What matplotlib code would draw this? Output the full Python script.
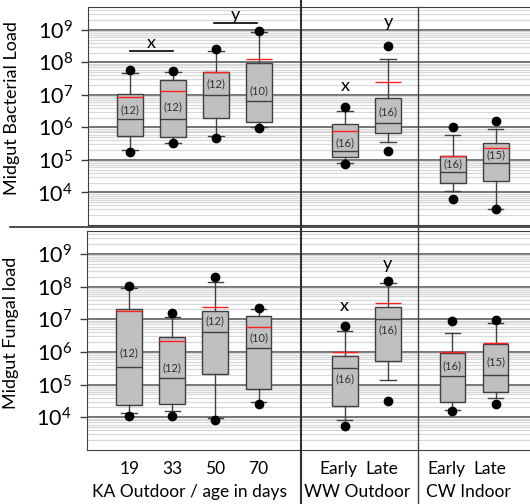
import numpy as np
import matplotlib
matplotlib.use("Agg")
import matplotlib.pyplot as plt
from matplotlib.lines import Line2D

plt.rcParams['font.family'] = ['Lato', 'DejaVu Sans']

# ---- data (log10 of load) ----
tick_labels = ['19', '33', '50', '70', 'Early', 'Late', 'Early', 'Late']
group_labels = ['KA Outdoor / age in days', 'WW Outdoor', 'CW Indoor']
n_samples = [12, 12, 12, 10, 16, 16, 16, 15]

bact_q1 = [5.72, 5.69, 6.29, 6.18, 5.08, 5.82, 4.29, 4.34]
bact_med = [6.25, 6.27, 7.01, 6.81, 5.26, 6.13, 4.62, 4.90]
bact_q3 = [7.04, 7.46, 7.69, 7.98, 6.10, 6.89, 5.13, 5.53]
bact_mean = [6.92, 7.12, 7.71, 8.10, 5.90, 7.40, 5.13, 5.38]
bact_whislo = [5.29, 5.53, 5.72, 6.01, 4.92, 5.54, 4.04, 3.49]
bact_whishi = [7.67, 7.70, 8.36, 8.94, 6.50, 8.11, 5.77, 5.95]
bact_dotlo = [5.24, 5.51, 5.66, 5.98, 4.88, 5.28, 3.80, 3.48]
bact_dothi = [7.75, 7.72, 8.42, 8.97, 6.64, 8.49, 6.02, 6.21]
bact_nlabel = [6.54, 6.64, 7.34, 7.13, 5.53, 6.47, 4.88, 5.15]

fung_q1 = [4.38, 4.40, 5.34, 4.87, 4.34, 5.71, 4.48, 4.76]
fung_med = [5.54, 5.20, 6.61, 6.13, 5.50, 7.02, 5.27, 5.29]
fung_q3 = [7.32, 6.47, 7.26, 7.09, 5.88, 7.36, 5.97, 6.24]
fung_mean = [7.25, 6.33, 7.37, 6.76, 6.00, 7.49, 5.99, 6.26]
fung_whislo = [4.12, 4.19, 3.98, 4.46, 3.92, 5.15, 4.21, 4.59]
fung_whishi = [7.97, 7.06, 8.14, 7.32, 6.64, 8.12, 6.57, 6.89]
fung_dotlo = [4.05, 4.05, 3.93, 4.40, 3.73, 4.50, 4.19, 4.42]
fung_dothi = [8.02, 7.18, 8.29, 7.35, 6.80, 8.17, 6.94, 6.97]
fung_nlabel = [5.96, 5.50, 6.95, 6.43, 5.19, 6.69, 5.58, 5.69]

# significance letters: (label, x index, log10 height)
bact_letters = [('x', 0.5, 8.60), ('y', 2.45, 9.46), ('x', 4, 7.28), ('y', 5, 9.25)]
bact_brackets = [(0, 1, 8.36), (1.95, 2.95, 9.215)]
fung_letters = [('x', 4, 7.40), ('y', 5, 8.70)]

positions = [1, 2, 3, 4, 6, 7, 8.5, 9.5]
EDGE = '#404040'


def draw_panel(ax, q1, med, q3, mean, wlo, whi, dlo, dhi, nlab, ylabel):
    stats = []
    for i in range(len(med)):
        stats.append(dict(q1=10**q1[i], med=10**med[i], q3=10**q3[i],
                          mean=10**mean[i], whislo=10**wlo[i], whishi=10**whi[i],
                          fliers=[10**dlo[i], 10**dhi[i]]))
    ax.bxp(stats, positions=positions, widths=0.6, capwidths=0.36,
           patch_artist=True, showmeans=True, meanline=True,
           boxprops=dict(facecolor='#c0c0c0', edgecolor=EDGE, linewidth=1.0),
           medianprops=dict(color=EDGE, linewidth=1.0),
           meanprops=dict(color='#ff2020', linewidth=1.0, linestyle='-'),
           whiskerprops=dict(color=EDGE, linewidth=1.0),
           capprops=dict(color=EDGE, linewidth=1.0),
           flierprops=dict(marker='o', markerfacecolor='black',
                           markeredgecolor='black', markersize=6),
           zorder=3)
    for p, n, y in zip(positions, n_samples, nlab):
        ax.text(p, 10**y, f'({n})', ha='center', va='center', fontsize=8,
                color='#303030', zorder=5)
    ax.set_yscale('log')
    ax.set_ylim(10**3.0, 10**9.7)
    ax.set_xlim(0.02, 10.3)
    ax.set_yticks([10**k for k in range(4, 10)])
    ax.set_yticklabels([f'$\\mathregular{{10^{{{k}}}}}$' for k in range(4, 10)],
                       fontsize=15.5)
    ax.yaxis.set_minor_locator(matplotlib.ticker.LogLocator(base=10, subs=np.arange(2, 10)))
    ax.yaxis.set_minor_formatter(matplotlib.ticker.NullFormatter())
    ax.grid(True, which='major', axis='y', color='#505050', linewidth=1.1, zorder=0)
    ax.grid(True, which='minor', axis='y', color='#d8d8d8', linewidth=0.9, zorder=0)
    ax.set_axisbelow(True)
    ax.tick_params(axis='y', which='major', length=5, width=1, color=EDGE, pad=6)
    ax.tick_params(axis='y', which='minor', length=0)
    ax.set_ylabel(ylabel, fontsize=13)
    ax.yaxis.set_label_coords(-0.154, 0.535)
    for s in ['left', 'top', 'bottom']:
        ax.spines[s].set_color(EDGE)
    ax.spines['right'].set_visible(False)


fig = plt.figure(figsize=(5.3, 5.04), dpi=100)
ax_top = fig.add_axes([88/530, 1 - 225/504, 1 - 88/530, 218/504])
ax_bot = fig.add_axes([87/530, 1 - 450/504, 1 - 87/530, 219/504])

draw_panel(ax_top, bact_q1, bact_med, bact_q3, bact_mean, bact_whislo, bact_whishi,
           bact_dotlo, bact_dothi, bact_nlabel, 'Midgut Bacterial Load')
draw_panel(ax_bot, fung_q1, fung_med, fung_q3, fung_mean, fung_whislo, fung_whishi,
           fung_dotlo, fung_dothi, fung_nlabel, 'Midgut Fungal load')

ax_top.set_xticks([])
for lab, xi, y in bact_letters:
    ax_top.text(positions[0] + xi if xi < 4 else positions[int(xi)], 10**y, lab,
                ha='center', va='center', fontsize=13)
for a, b, y in bact_brackets:
    ax_top.plot([positions[0] + a, positions[0] + b], [10**y, 10**y], color='black', lw=1.2)
for lab, xi, y in fung_letters:
    ax_bot.text(positions[int(xi)], 10**y, lab, ha='center', va='center', fontsize=13)

ax_bot.set_xticks(positions)
ax_bot.set_xticklabels(tick_labels, fontsize=12.5)
ax_bot.tick_params(axis='x', length=0, pad=8)
# the Early/Late labels sit a little left of their boxes
shift = matplotlib.transforms.ScaledTranslation(-6/100, 0, fig.dpi_scale_trans)
for t in ax_bot.get_xticklabels()[4:]:
    t.set_transform(t.get_transform() + shift)

# group labels under the ticks
for lab, xc in zip(group_labels, [190, 357, 468]):
    fig.text(xc/530, 1 - 492/504, lab, ha='center', va='center', fontsize=12.5)

# figure-wide separator lines
fig.add_artist(Line2D([10/530, 1], [1 - 227/504] * 2, color='#303030', lw=1.2))
fig.add_artist(Line2D([301/530] * 2, [0, 1], color='#303030', lw=1.5))
fig.add_artist(Line2D([418/530] * 2, [0, 1 - 7/504], color='#404040', lw=1.0))

fig.savefig('out.png', dpi=100)
